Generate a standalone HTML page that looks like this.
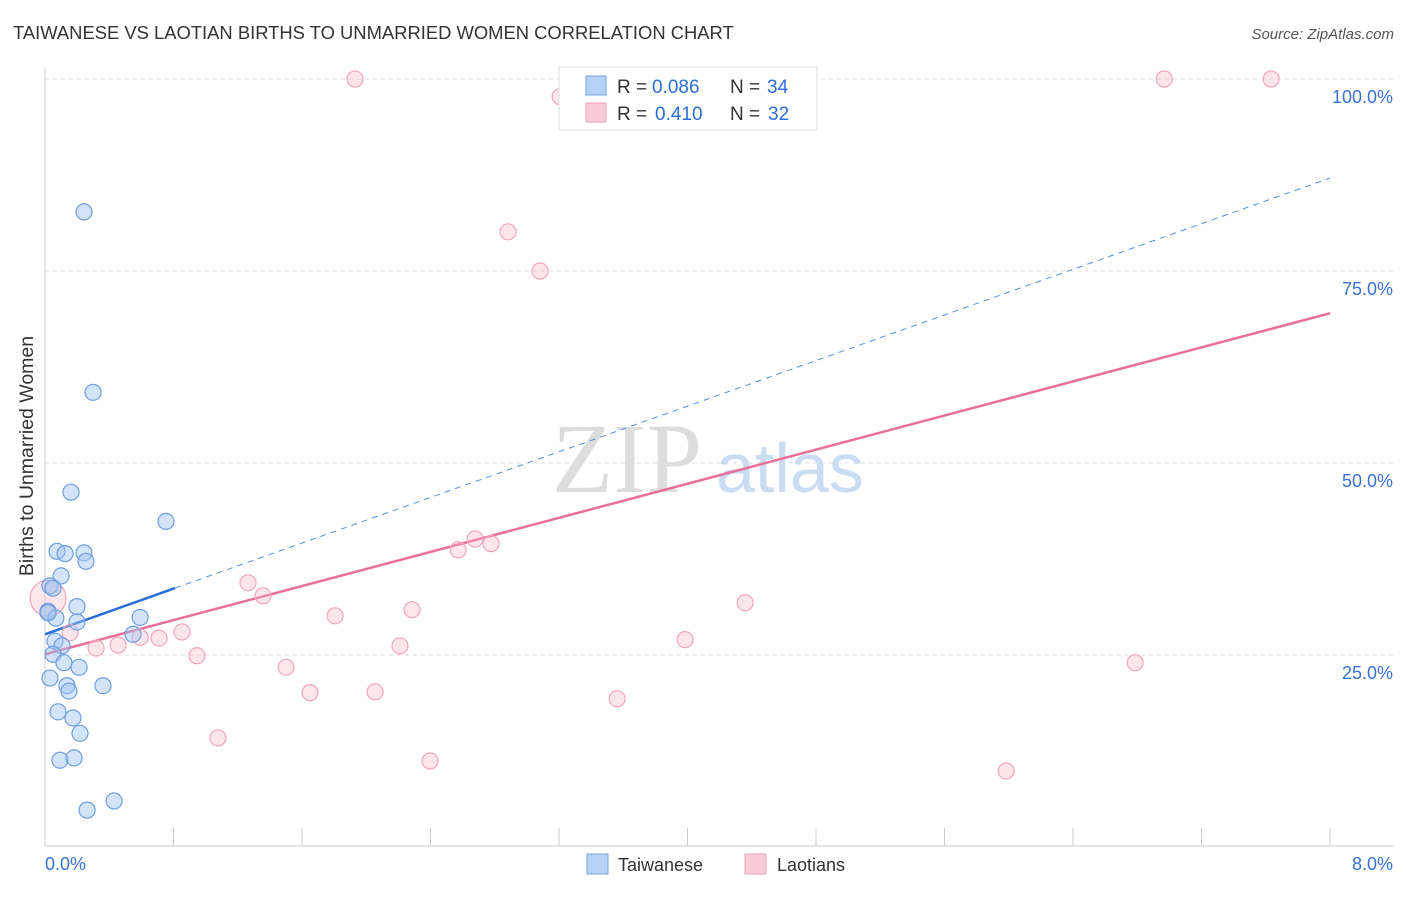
<!DOCTYPE html>
<html><head><meta charset="utf-8"><style>
body{margin:0;background:#fff;font-family:"Liberation Sans",sans-serif;}
</style></head><body>
<svg id="chart" width="1406" height="892" viewBox="0 0 1406 892" font-family="Liberation Sans, sans-serif">
<text x="13" y="39" font-size="18.4" fill="#333">TAIWANESE VS LAOTIAN BIRTHS TO UNMARRIED WOMEN CORRELATION CHART</text>
<text x="1394" y="39" font-size="15" fill="#555" text-anchor="end" font-style="italic">Source: ZipAtlas.com</text>
<text x="33" y="456" font-size="19.5" fill="#333" text-anchor="middle" transform="rotate(-90 33 456)">Births to Unmarried Women</text>
<text x="552" y="492" font-size="100" fill="#ddd" font-family="Liberation Serif, serif">ZIP</text>
<text x="716" y="492" font-size="70" fill="#c9dcf2">atlas</text>
<g id="grid"></g><g id="axes"></g><g id="lines"></g><g id="pts"></g>
<g>
<rect x="559" y="67" width="258" height="63" fill="#fff" stroke="#ddd"/>
<rect x="586" y="76" width="20" height="19" fill="#b8d2f5" stroke="#7aa7e0"/>
<text x="617" y="93" font-size="19" fill="#333">R =</text>
<text x="652" y="93" font-size="19" fill="#2a6fd6">0.086</text>
<text x="730" y="93" font-size="19" fill="#333">N =</text>
<text x="767" y="93" font-size="19" fill="#2a6fd6">34</text>
<rect x="586" y="103" width="20" height="19" fill="#fbcad8" stroke="#f0a0b8"/>
<text x="617" y="120" font-size="19" fill="#333">R =</text>
<text x="655" y="120" font-size="19" fill="#2a6fd6">0.410</text>
<text x="730" y="120" font-size="19" fill="#333">N =</text>
<text x="768" y="120" font-size="19" fill="#2a6fd6">32</text>
</g>
<g>
<rect x="587" y="854" width="21" height="20" fill="#b8d2f5" stroke="#7aa7e0"/>
<text x="618" y="871" font-size="18" fill="#333">Taiwanese</text>
<rect x="745" y="854" width="21" height="20" fill="#fbcad8" stroke="#f0a0b8"/>
<text x="777" y="871" font-size="18" fill="#333">Laotians</text>
</g>
</svg>
<script>
const yTicks=[25,50,75,100];
const yTickLabels=["25.0%","50.0%","75.0%","100.0%"];
const xTicks=[0,0.8,1.6,2.4,3.2,4,4.8,5.6,6.4,7.2,8];
const blueX=[0.243,0.299,0.162,0.753,0.075,0.125,0.243,0.255,0.100,0.031,0.050,0.199,0.019,0.068,0.199,0.592,0.548,0.062,0.106,0.050,0.118,0.212,0.031,0.137,0.149,0.361,0.081,0.174,0.218,0.093,0.181,0.430,0.262,0.019];
const blueY=[82.7,59.2,46.2,42.4,38.5,38.2,38.3,37.2,35.3,34.0,33.7,31.3,30.7,29.8,29.3,29.9,27.7,26.8,26.2,25.1,24.0,23.4,22.0,21.0,20.3,21.0,17.6,16.8,14.8,11.3,11.6,6.0,4.8,30.5];
const pinkX=[1.930,3.207,6.968,7.634,2.883,3.082,2.677,2.777,2.572,1.264,1.357,4.359,2.285,1.806,0.019,0.853,0.710,0.592,0.455,0.318,0.156,3.985,2.210,0.946,1.501,6.787,1.650,2.055,3.562,1.077,2.397,5.984];
const pinkY=[100,97.7,100,100,80.1,75.0,40.1,39.5,38.7,34.4,32.7,31.8,30.9,30.1,32.4,28.0,27.2,27.3,26.3,25.9,27.9,27.0,26.2,24.9,23.4,24.0,20.1,20.2,19.3,14.2,11.2,9.9];
const pinkR=[8,8,8,8,8,8,8,8,8,8,8,8,8,8,18,8,8,8,8,8,8,8,8,8,8,8,8,8,8,8,8,8];
const blueTrend=[27.7,87.1];
const blueSolidEnd=0.81;
const pinkTrend=[25.1,69.5];
const NS="http://www.w3.org/2000/svg";
const xs=v=>45+v*(1285/8);
const ys=v=>847-v*7.68;
function mk(t,a,p){const e=document.createElementNS(NS,t);for(const k in a)e.setAttribute(k,a[k]);document.getElementById(p).appendChild(e);return e;}
yTicks.forEach((t,i)=>{
 const g=mk('line',{x1:45,x2:1394,y1:ys(t),y2:ys(t),stroke:'#ddd','stroke-dasharray':'4,4'},'grid');
 
 
 const l=mk('text',{x:1393,y:ys(t)+24,'font-size':18,fill:'#3a73d0','text-anchor':'end'},'grid');
 l.textContent=yTickLabels[i];
 
 
});
const ax=mk('line',{x1:45,x2:1394,y1:846,y2:846,stroke:'#ccc'},'axes');


const ay=mk('line',{x1:45,x2:45,y1:68,y2:846,stroke:'#ccc'},'axes');


xTicks.forEach(t=>{const e=mk('line',{x1:xs(t),x2:xs(t),y1:828,y2:846,stroke:'#ccc'},'axes');
 
 });
[[0,"0.0%",'start',45],[8,"8.0%",'end',1393]].forEach(a=>{const e=mk('text',{x:a[3],y:870,'font-size':18,fill:'#3a73d0','text-anchor':a[2]},'axes');e.textContent=a[1];
 
 });
const bt=v=>blueTrend[0]+(blueTrend[1]-blueTrend[0])*v/8;
const pt=v=>pinkTrend[0]+(pinkTrend[1]-pinkTrend[0])*v/8;
pinkX.forEach((x,i)=>{const c=mk('circle',{cx:xs(x),cy:ys(pinkY[i]),r:pinkR[i],fill:'rgba(248,180,200,0.35)',stroke:'#f2a6bd','stroke-width':1.2},'pts');
 
 });
blueX.forEach((x,i)=>{const c=mk('circle',{cx:xs(x),cy:ys(blueY[i]),r:8,fill:'rgba(160,196,240,0.45)',stroke:'#6d9ee0','stroke-width':1.2},'pts');
 
 });
const bd=mk('line',{x1:xs(blueSolidEnd),y1:ys(bt(blueSolidEnd)),x2:xs(8),y2:ys(bt(8)),stroke:'#5a8fdc','stroke-dasharray':'6,5','stroke-width':1},'lines');


const bs=mk('line',{x1:xs(0),y1:ys(bt(0)),x2:xs(blueSolidEnd),y2:ys(bt(blueSolidEnd)),stroke:'#2a6fd6','stroke-width':2.5},'lines');


const pl=mk('line',{x1:xs(0),y1:ys(pt(0)),x2:xs(8),y2:ys(pt(8)),stroke:'#e8709a','stroke-width':2.5},'lines');


</script>
</body></html>
